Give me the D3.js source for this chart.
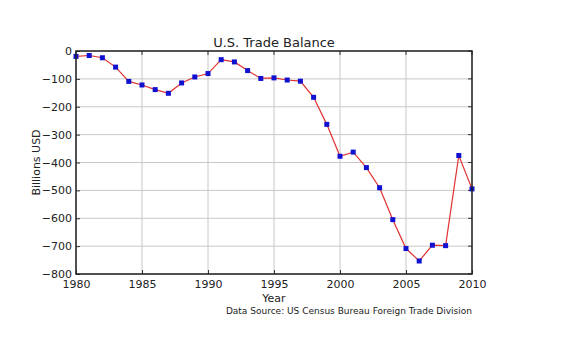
<!DOCTYPE html>
<html><head><meta charset="utf-8">
<script src="https://cdn.jsdelivr.net/npm/d3@7"></script>
<style>body{margin:0;background:#fff}svg{display:block}text{font-family:"DejaVu Sans",sans-serif;fill:#222}</style>
</head><body><div id="c"></div>
<script>
const years = [1980,1981,1982,1983,1984,1985,1986,1987,1988,1989,1990,1991,1992,1993,1994,1995,1996,1997,1998,1999,2000,2001,2002,2003,2004,2005,2006,2007,2008,2009,2010];
const balance = [-19.4,-16.2,-24.2,-57.8,-109.1,-121.9,-138.5,-151.7,-114.6,-93.1,-80.9,-31.1,-39.2,-70.3,-98.5,-96.4,-104.1,-108.3,-166.1,-263.2,-377.6,-362.7,-418.2,-490.5,-605.0,-708.6,-753.3,-696.7,-698.3,-374.9,-494.7];
const xTicks = [1980,1985,1990,1995,2000,2005,2010];
const yTicks = [0,-100,-200,-300,-400,-500,-600,-700,-800];
const title = "U.S. Trade Balance";
const xLabel = "Year";
const yLabel = "Billions USD";
const source = "Data Source: US Census Bureau Foreign Trade Division";

const W=565,H=355, L=76,T=51,R=472,B=274;
const svg=d3.select("#c").append("svg").attr("width",W).attr("height",H);
const x=d3.scaleLinear().domain([1980,2010]).range([L,R]);
const y=d3.scaleLinear().domain([-800,0]).range([B,T]);

// grid
svg.append("g").selectAll("line").data(xTicks).join("line")
 .attr("x1",d=>x(d)).attr("x2",d=>x(d)).attr("y1",T).attr("y2",B)
 .attr("stroke","#c8c8c8").attr("stroke-width",1);
svg.append("g").selectAll("line").data(yTicks).join("line")
 .attr("x1",L).attr("x2",R).attr("y1",d=>y(d)).attr("y2",d=>y(d))
 .attr("stroke","#c8c8c8").attr("stroke-width",1);

// axes
const xa=svg.append("g").attr("transform",`translate(0,${B})`)
 .call(d3.axisBottom(x).tickValues(xTicks).tickFormat(d3.format("d")).tickSizeInner(-4).tickSizeOuter(0).tickPadding(6));
const ya=svg.append("g").attr("transform",`translate(${L},0)`)
 .call(d3.axisLeft(y).tickValues(yTicks).tickFormat(d=>d<0?"\u2212"+Math.abs(d):d).tickSizeInner(-4).tickSizeOuter(0).tickPadding(4));
[xa,ya].forEach(a=>{a.select(".domain").remove();a.selectAll("text").attr("font-size",11).attr("fill","#222").attr("font-family","DejaVu Sans");a.selectAll("line").attr("stroke","#333");});
// right ticks
svg.append("g").selectAll("line").data(yTicks).join("line")
 .attr("x1",R-4).attr("x2",R).attr("y1",d=>y(d)).attr("y2",d=>y(d)).attr("stroke","#333");
svg.append("g").selectAll("line").data(xTicks).join("line")
 .attr("x1",d=>x(d)).attr("x2",d=>x(d)).attr("y1",T).attr("y2",T+4).attr("stroke","#333");

// line + markers
const line=d3.line().x((d,i)=>x(years[i])).y(d=>y(d));
svg.append("path").datum(balance).attr("d",line).attr("fill","none").attr("stroke","#e03030").attr("stroke-width",1.2);
svg.append("g").selectAll("rect").data(balance).join("rect")
 .attr("x",(d,i)=>x(years[i])-2.5).attr("y",d=>y(d)-2.5).attr("width",5).attr("height",5).attr("fill","#1010d0");

// frame
svg.append("rect").attr("x",L).attr("y",T).attr("width",R-L).attr("height",B-T).attr("fill","none").attr("stroke","#222").attr("stroke-width",1.5);

// texts
svg.append("text").attr("x",(L+R)/2).attr("y",T-4).attr("text-anchor","middle").attr("font-size",13).text(title);
svg.append("text").attr("x",(L+R)/2).attr("y",302).attr("text-anchor","middle").attr("font-size",11).text(xLabel);
svg.append("text").attr("transform",`translate(40,${(T+B)/2}) rotate(-90)`).attr("text-anchor","middle").attr("font-size",11).text(yLabel);
svg.append("text").attr("x",R).attr("y",314).attr("text-anchor","end").attr("font-size",9).text(source);
</script></body></html>
